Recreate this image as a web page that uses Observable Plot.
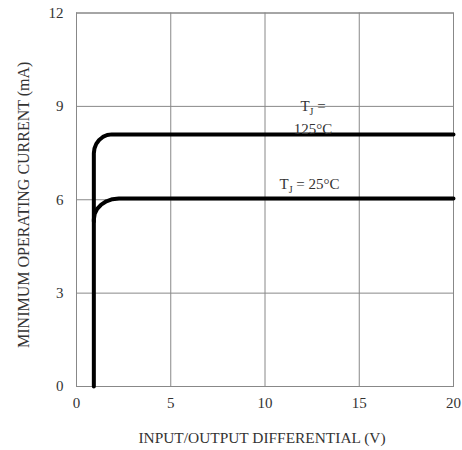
<!DOCTYPE html>
<html><head><meta charset="utf-8">
<script src="https://cdn.jsdelivr.net/npm/d3@7"></script>
<script src="https://cdn.jsdelivr.net/npm/@observablehq/plot@0.6"></script>
<style>body{margin:0;background:#fff;} svg{font-family:"Liberation Serif","Times New Roman",serif;}</style>
</head><body><div id="chart"></div>
<script>
const xTicks = [0, 5, 10, 15, 20];
const yTicks = [0, 3, 6, 9, 12];
const hotX = [0.92, 0.92, 0.953, 1.048, 1.2, 1.398, 1.628, 1.875, 20];
const hotY = [0, 7.49, 7.648, 7.795, 7.921, 8.018, 8.079, 8.1, 8.1];
const roomX = [0.92, 0.92, 0.965, 1.098, 1.31, 1.585, 1.906, 2.25, 20];
const roomY = [5.3, 5.37, 5.543, 5.705, 5.844, 5.95, 6.017, 6.04, 6.04];
const labels = [
  {x: 12.36, y: 6.49, text: "T_J = 25°C"},
  {x: 12.55, y: 8.99, text: "T_J ="},
  {x: 12.55, y: 8.27, text: "125°C"}
];
const xTitle = "INPUT/OUTPUT DIFFERENTIAL (V)";
const yTitle = "MINIMUM OPERATING CURRENT (mA)";

const hot = hotX.map((x, i) => ({x, y: hotY[i]}));
const room = roomX.map((x, i) => ({x, y: roomY[i]}));

const chart = Plot.plot({
  width: 462, height: 450,
  marginLeft: 76, marginRight: 9, marginTop: 12.5, marginBottom: 64,
  style: {fontFamily: '"Liberation Serif","Times New Roman",serif', fontSize: "15px", color: "#333", background: "#fff"},
  x: {domain: [0, 20], ticks: xTicks},
  y: {domain: [0, 12], ticks: yTicks},
  marks: [
    Plot.gridX(xTicks, {stroke: "#888", strokeOpacity: 1, strokeWidth: 1}),
    Plot.gridY(yTicks, {stroke: "#888", strokeOpacity: 1, strokeWidth: 1}),
    Plot.frame({stroke: "#888", strokeWidth: 1}),
    Plot.axisX(xTicks, {tickSize: 0, tickPadding: 11, label: null, fontSize: 15}),
    Plot.axisY(yTicks, {tickSize: 0, tickPadding: 13, label: null, fontSize: 15}),
    Plot.line(hot, {x: "x", y: "y", stroke: "#000", strokeWidth: 4, strokeLinejoin: "round"}),
    Plot.line(room, {x: "x", y: "y", stroke: "#000", strokeWidth: 4, strokeLinejoin: "round"}),
    Plot.text(labels, {x: "x", y: "y", text: "text", fill: "#333", fontSize: 15}),
    Plot.text([xTitle], {frameAnchor: "bottom", dy: 52, dx: -3, textAnchor: "middle", lineAnchor: "middle", fill: "#333", fontSize: 15.4}),
    Plot.text([yTitle], {frameAnchor: "left", dx: -53, dy: 5, rotate: -90, textAnchor: "middle", lineAnchor: "middle", fill: "#333", fontSize: 16})
  ]
});
document.getElementById("chart").appendChild(chart);
// render subscript J
chart.querySelectorAll("text").forEach(t => {
  if (t.textContent.includes("T_J")) {
    const rest = t.textContent.replace("T_J", "");
    t.textContent = "";
    const ns = "http://www.w3.org/2000/svg";
    const a = document.createElementNS(ns, "tspan"); a.textContent = "T";
    const b = document.createElementNS(ns, "tspan"); b.textContent = "J"; b.setAttribute("font-size", "10"); b.setAttribute("dy", "4");
    const c = document.createElementNS(ns, "tspan"); c.textContent = rest; c.setAttribute("dy", "-4");
    t.append(a, b, c);
  }
});
</script></body></html>
